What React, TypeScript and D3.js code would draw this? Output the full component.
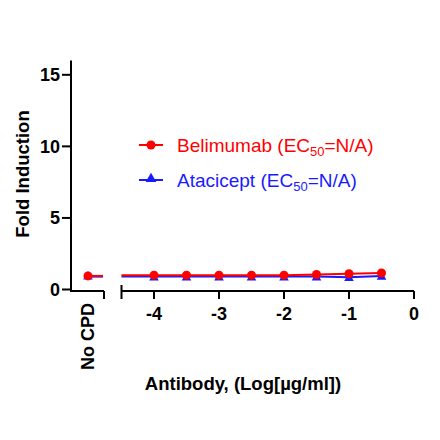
import React from "react";
import * as d3 from "d3";

const logDose = [-4, -3.5, -3, -2.5, -2, -1.5, -1, -0.5];
const belimumab = [1.0, 1.0, 1.0, 1.0, 1.0, 1.05, 1.1, 1.15];
const atacicept = [0.9, 0.9, 0.9, 0.9, 0.9, 0.9, 0.85, 0.95];
const belimumabNoCPD = 0.95;
const ataciceptNoCPD = 0.9;
const xTicks = [-4, -3, -2, -1, 0];
const yTicks = [0, 5, 10, 15];

const RED = "#ff0000";
const BLUE = "#1a1aff";
const FONT = "Liberation Sans, Arial, sans-serif";

export default function App() {
  const x = d3.scaleLinear().domain([-4.5, 0]).range([121.5, 414]);
  const y = d3.scaleLinear().domain([0, 16]).range([289.5, 60.5]);
  const axisY = 291;
  const yAxisX = 71;
  const noCpdX = 88;
  const line = d3
    .line<[number, number]>()
    .x((d) => x(d[0]))
    .y((d) => y(d[1]));
  const fitB: [number, number][] = [[-4.5, belimumab[0]], ...logDose.map((d, i) => [d, belimumab[i]] as [number, number])];
  const fitA: [number, number][] = [[-4.5, atacicept[0]], ...logDose.map((d, i) => [d, atacicept[i]] as [number, number])];
  const tri = d3.symbol().type(d3.symbolTriangle).size(40)();
  const triLegend = d3.symbol().type(d3.symbolTriangle).size(50)();

  return (
    <svg width={440} height={440} style={{ position: "absolute", left: 0, top: 0 }} fontFamily={FONT}>
      <rect width={440} height={440} fill="#fff" />
      {/* Y axis */}
      <line x1={yAxisX} x2={yAxisX} y1={y(16)} y2={axisY + 1} stroke="#000" strokeWidth={2} />
      {yTicks.map((t) => (
        <g key={t}>
          <line x1={yAxisX - 9} x2={yAxisX} y1={y(t)} y2={y(t)} stroke="#000" strokeWidth={2} />
          <text x={yAxisX - 11} y={y(t)} dy="0.36em" textAnchor="end" fontSize={18} fontWeight="bold">
            {t}
          </text>
        </g>
      ))}
      {/* X axis segment 1 */}
      <line x1={yAxisX} x2={104} y1={axisY} y2={axisY} stroke="#000" strokeWidth={2} />
      <line x1={104} x2={104} y1={axisY} y2={axisY + 8} stroke="#000" strokeWidth={2} />
      {/* X axis segment 2 */}
      <line x1={x(-4.5)} x2={x(0)} y1={axisY} y2={axisY} stroke="#000" strokeWidth={2} />
      <line x1={x(-4.5)} x2={x(-4.5)} y1={axisY - 6} y2={axisY + 8} stroke="#000" strokeWidth={2} />
      {xTicks.map((t) => (
        <g key={t}>
          <line x1={x(t)} x2={x(t)} y1={axisY} y2={axisY + 8} stroke="#000" strokeWidth={2} />
          <text x={x(t)} y={314} dy="0.36em" textAnchor="middle" fontSize={18} fontWeight="bold">
            {t}
          </text>
        </g>
      ))}
      <text
        transform={`translate(${noCpdX + 6},303) rotate(-90)`}
        textAnchor="end"
        fontSize={18}
        fontWeight="bold"
      >
        No CPD
      </text>
      {/* No CPD data */}
      <line x1={noCpdX} x2={103} y1={y(ataciceptNoCPD)} y2={y(ataciceptNoCPD)} stroke={BLUE} strokeWidth={2} />
      <path d={tri} transform={`translate(${noCpdX},${y(ataciceptNoCPD)})`} fill={BLUE} />
      <line x1={noCpdX} x2={103} y1={y(belimumabNoCPD)} y2={y(belimumabNoCPD)} stroke={RED} strokeWidth={2} />
      <circle cx={noCpdX} cy={y(belimumabNoCPD)} r={4.5} fill={RED} />
      {/* Series */}
      <path d={line(fitA) || ""} fill="none" stroke={BLUE} strokeWidth={2} />
      {logDose.map((d, i) => (
        <path key={"a" + i} d={tri} transform={`translate(${x(d)},${y(atacicept[i]) + 1})`} fill={BLUE} />
      ))}
      <path d={line(fitB) || ""} fill="none" stroke={RED} strokeWidth={2} />
      {logDose.map((d, i) => (
        <circle key={"b" + i} cx={x(d)} cy={y(belimumab[i])} r={4.5} fill={RED} />
      ))}
      {/* Legend */}
      <line x1={139} x2={163} y1={145} y2={145} stroke={RED} strokeWidth={2} />
      <circle cx={151} cy={145} r={4.5} fill={RED} />
      <text x={177} y={145} dy="0.36em" fontSize={19} fill={RED}>
        Belimumab (EC<tspan fontSize={13} dy={4}>50</tspan>
        <tspan dy={-4}>=N/A)</tspan>
      </text>
      <line x1={139} x2={163} y1={180} y2={180} stroke={BLUE} strokeWidth={2} />
      <path d={triLegend} transform={`translate(151,179)`} fill={BLUE} />
      <text x={177} y={180} dy="0.36em" fontSize={19} fill={BLUE}>
        Atacicept (EC<tspan fontSize={13} dy={4}>50</tspan>
        <tspan dy={-4}>=N/A)</tspan>
      </text>
      {/* Axis titles */}
      <text
        transform={`translate(29,174) rotate(-90)`}
        textAnchor="middle"
        fontSize={18.5}
        fontWeight="bold"
      >
        Fold Induction
      </text>
      <text x={243} y={383} dy="0.36em" textAnchor="middle" fontSize={18.5} fontWeight="bold">
        Antibody, (Log[µg/ml])
      </text>
    </svg>
  );
}
